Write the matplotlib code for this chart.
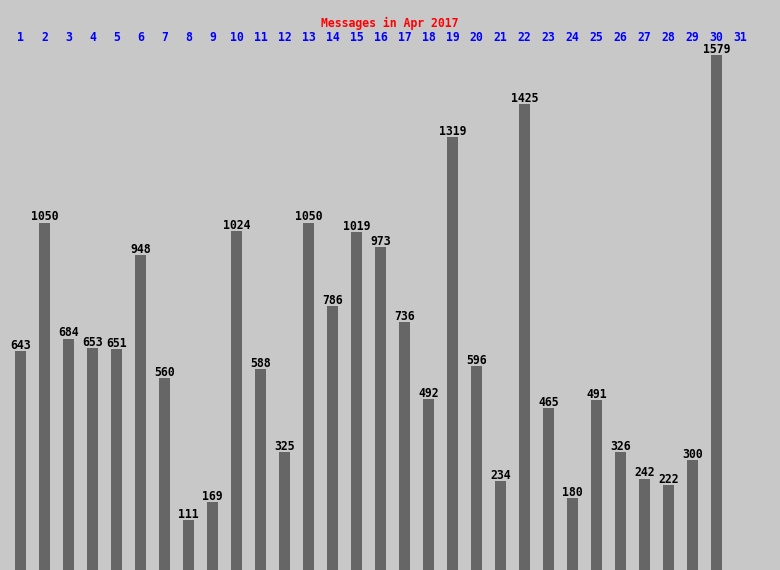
import matplotlib
matplotlib.use("Agg")
import matplotlib.pyplot as plt

# Data
days = list(range(1, 32))
messages = [643, 1050, 684, 653, 651, 948, 560, 111, 169, 1024,
            588, 325, 1050, 786, 1019, 973, 736, 492, 1319, 596,
            234, 1425, 465, 180, 491, 326, 242, 222, 300, 1579]
title = "Messages in Apr 2017"

bg = "#c8c8c8"
bar_color = "#666666"

fig = plt.figure(figsize=(7.8, 5.7), dpi=100, facecolor=bg)
ax = fig.add_axes([0, 0, 1, 1])
ax.set_facecolor(bg)
ax.axis("off")

# pixel layout: day 1 centred at 20.5px, 24px per day; bars grow from below the image
px_per_msg = 0.3168
y_low = -14.8 / px_per_msg
y_high = (570 - 14.8) / px_per_msg
ax.set_xlim(1 - 20.5 / 24, 1 + (780 - 20.5) / 24)
ax.set_ylim(y_low, y_high)

bar_days = days[:len(messages)]
floor = y_low - 20
ax.bar(bar_days, [v - floor for v in messages], bottom=floor, width=11 / 24,
       color=bar_color, linewidth=0)

mono = "DejaVu Sans Mono"
for d, v in zip(bar_days, messages):
    ax.annotate(str(v), (d, v), xytext=(0, 1.5), textcoords="offset points",
                ha="center", va="baseline", fontsize=8.3, fontweight="bold",
                family=mono, color="black")

trans = ax.get_xaxis_transform()
for d in days:
    ax.text(d, 1 - 41 / 570, str(d), transform=trans, ha="center", va="baseline",
            fontsize=8.3, fontweight="bold", family=mono, color="#0000ff")

fig.text(389.5 / 780, 1 - 27 / 570, title, ha="center", va="baseline",
         fontsize=8.3, fontweight="bold", family=mono, color="#ff0000")

fig.savefig("out.png", dpi=100, facecolor=bg)
